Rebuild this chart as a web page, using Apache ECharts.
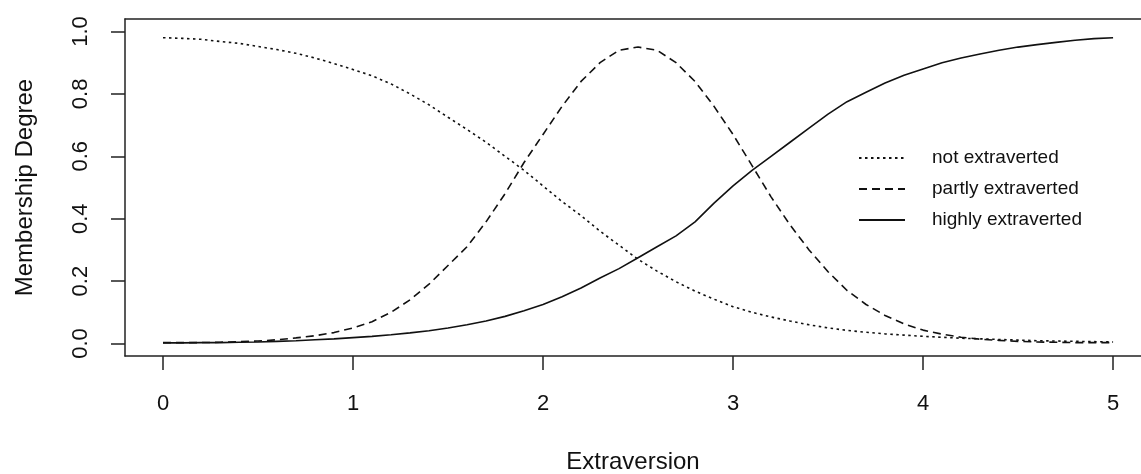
<!DOCTYPE html>
<html>
<head>
<meta charset="utf-8">
<script src="https://cdn.jsdelivr.net/npm/echarts@6/dist/echarts.min.js"></script>
<style>
  html, body { margin: 0; padding: 0; background: #fff; }
  #chart { width: 1141px; height: 474px; }
</style>
</head>
<body>
<div id="chart"></div>
<script>
// x positions of the curve points
const xValues = [0, 0.1, 0.2, 0.3, 0.4, 0.5, 0.6, 0.7, 0.8, 0.9,
  1.0, 1.1, 1.2, 1.3, 1.4, 1.5, 1.6, 1.7, 1.8, 1.9,
  2.0, 2.1, 2.2, 2.3, 2.4, 2.5, 2.6, 2.7, 2.8, 2.9,
  3.0, 3.1, 3.2, 3.3, 3.4, 3.5, 3.6, 3.7, 3.8, 3.9,
  4.0, 4.1, 4.2, 4.3, 4.4, 4.5, 4.6, 4.7, 4.8, 4.9, 5.0]

// membership degrees
const notExtraverted = [0.98, 0.978, 0.975, 0.968, 0.962, 0.952, 0.942, 0.93, 0.915, 0.897,
  0.878, 0.858, 0.832, 0.80, 0.765, 0.725, 0.686, 0.645, 0.60, 0.555,
  0.505, 0.455, 0.41, 0.36, 0.315, 0.27, 0.232, 0.198, 0.168, 0.142,
  0.118, 0.10, 0.085, 0.072, 0.06, 0.05, 0.042, 0.036, 0.031, 0.027,
  0.023, 0.02, 0.017, 0.015, 0.013, 0.011, 0.009, 0.008, 0.007, 0.006, 0.005]

const partlyExtraverted = [0.003, 0.003, 0.003, 0.004, 0.006, 0.008, 0.012, 0.018, 0.025, 0.035,
  0.05, 0.07, 0.10, 0.14, 0.19, 0.25, 0.31, 0.39, 0.48, 0.58,
  0.67, 0.76, 0.84, 0.90, 0.94, 0.95, 0.94, 0.90, 0.84, 0.76,
  0.67, 0.57, 0.47, 0.38, 0.30, 0.23, 0.17, 0.125, 0.09, 0.063,
  0.043, 0.03, 0.02, 0.014, 0.01, 0.007, 0.005, 0.004, 0.003, 0.003, 0.003]

const highlyExtraverted = [0.002, 0.002, 0.003, 0.003, 0.004, 0.005, 0.007, 0.009, 0.012, 0.015,
  0.019, 0.023, 0.028, 0.034, 0.041, 0.05, 0.06, 0.072, 0.087, 0.105,
  0.125, 0.15, 0.178, 0.21, 0.24, 0.275, 0.31, 0.345, 0.39, 0.45,
  0.505, 0.555, 0.60, 0.645, 0.69, 0.735, 0.775, 0.805, 0.835, 0.86,
  0.88, 0.90, 0.915, 0.928, 0.94, 0.95, 0.958, 0.965, 0.972, 0.977, 0.98]

const xTicks = [0, 1, 2, 3, 4, 5]
const yTicks = [0, 0.2, 0.4, 0.6, 0.8, 1.0]

const font = 'Liberation Sans, Arial, sans-serif'
const ink = '#111'

function pairs(ys) {
  return xValues.map((x, i) => [x, ys[i]])
}

function makeSeries(name, ys, dash) {
  return {
    name: name,
    type: 'line',
    data: pairs(ys),
    symbol: 'none',
    animation: false,
    itemStyle: { color: ink },
    lineStyle: { color: ink, width: 1.6, type: dash }
  }
}

const chart = echarts.init(document.getElementById('chart'))
chart.setOption({
  backgroundColor: '#fff',
  animation: false,
  // plot box runs past the right edge of the picture, so no right border
  grid: { left: 125, top: 19, right: 0, height: 337, outerBoundsMode: 'none', containLabel: false },
  xAxis: [{
    type: 'value',
    min: -0.2,
    max: 5.147,
    name: 'Extraversion',
    nameLocation: 'middle',
    nameGap: 94,
    nameTextStyle: { fontFamily: font, fontSize: 24, color: ink },
    axisLine: { show: true, onZero: false, lineStyle: { color: '#222', width: 1.5 } },
    axisTick: { show: true, inside: false, length: 14, customValues: xTicks, lineStyle: { color: '#222', width: 1.5 } },
    axisLabel: { customValues: xTicks, margin: 37, fontFamily: font, fontSize: 22, color: ink },
    splitLine: { show: false }
  }, {
    type: 'value',
    position: 'top',
    min: -0.2,
    max: 5.147,
    axisLine: { show: true, onZero: false, lineStyle: { color: '#222', width: 1.5 } },
    axisTick: { show: false },
    axisLabel: { show: false },
    splitLine: { show: false }
  }],
  yAxis: {
    type: 'value',
    min: -0.04,
    max: 1.04,
    name: 'Membership Degree',
    nameLocation: 'middle',
    nameGap: 88,
    nameRotate: 90,
    nameTextStyle: { fontFamily: font, fontSize: 24, color: ink },
    axisLine: { show: true, onZero: false, lineStyle: { color: '#222', width: 1.5 } },
    axisTick: { show: true, inside: false, length: 14, customValues: yTicks, lineStyle: { color: '#222', width: 1.5 } },
    axisLabel: {
      customValues: yTicks, rotate: 90, margin: 33,
      formatter: v => v.toFixed(1),
      fontFamily: font, fontSize: 22, color: ink
    },
    splitLine: { show: false }
  },
  legend: {
    orient: 'vertical',
    left: 853,
    top: 143,
    itemWidth: 46,
    itemHeight: 14,
    itemGap: 11,
    itemStyle: { opacity: 0 },
    textStyle: { fontFamily: font, fontSize: 19, color: ink, lineHeight: 20, padding: [0, 0, 0, 22] },
    data: ['not extraverted', 'partly extraverted', 'highly extraverted']
  },
  series: [
    makeSeries('not extraverted', notExtraverted, [2.5, 3.5]),
    makeSeries('partly extraverted', partlyExtraverted, [8, 5]),
    makeSeries('highly extraverted', highlyExtraverted, 'solid')
  ]
})
</script>
</body>
</html>
